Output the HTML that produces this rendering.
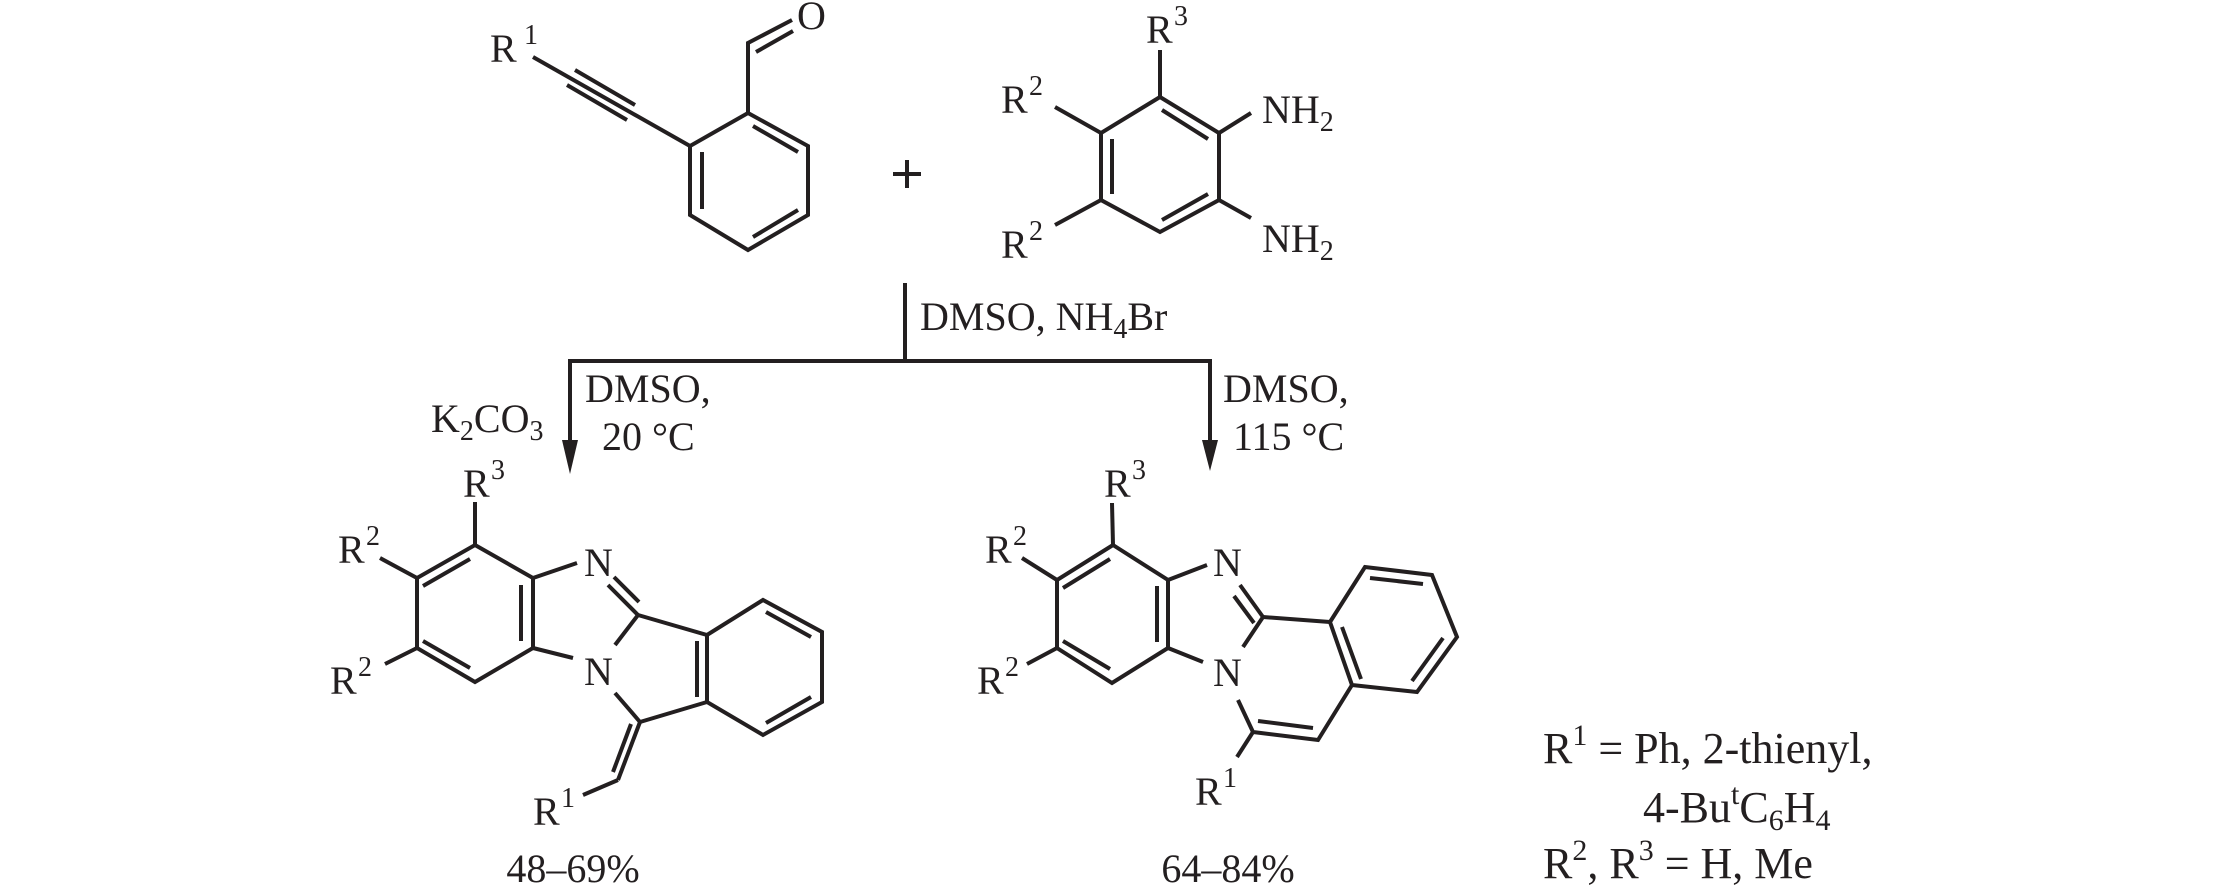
<!DOCTYPE html>
<html><head><meta charset="utf-8"><style>
html,body{margin:0;padding:0;background:#fff}
svg{display:block}
text{font-family:"Liberation Serif",serif;fill:#231f20}
</style></head><body>
<svg width="2213" height="886" viewBox="0 0 2213 886" xmlns="http://www.w3.org/2000/svg">
<g stroke="#231f20" stroke-width="4" fill="none" stroke-linecap="butt" stroke-linejoin="miter">
<!-- reactant 1 -->
<polygon points="748,113 808,146 808,215 748,250 690,215 690,146"/>
<line x1="753" y1="126" x2="798" y2="152"/>
<line x1="702" y1="152" x2="702" y2="209"/>
<line x1="753" y1="237" x2="798" y2="210"/>
<polyline points="748,113 748,43 792,20"/>
<line x1="756" y1="52" x2="793" y2="31"/>
<line x1="533" y1="57" x2="690" y2="146"/>
<line x1="575" y1="70" x2="635" y2="105"/>
<line x1="567" y1="85" x2="627" y2="120"/>
<!-- plus -->
<line x1="893" y1="174" x2="921" y2="174"/>
<line x1="907" y1="160" x2="907" y2="188"/>
<!-- diamine -->
<polygon points="1160,97 1219,133 1219,200 1160,232 1101,200 1101,133"/>
<line x1="1162" y1="110" x2="1208" y2="139"/>
<line x1="1112" y1="139" x2="1112" y2="194"/>
<line x1="1162" y1="220" x2="1208" y2="194"/>
<line x1="1160" y1="97" x2="1160" y2="50"/>
<line x1="1101" y1="133" x2="1055" y2="107"/>
<line x1="1219" y1="133" x2="1251" y2="113"/>
<line x1="1219" y1="200" x2="1251" y2="218"/>
<line x1="1101" y1="200" x2="1055" y2="225"/>
<!-- arrows -->
<line x1="905" y1="283" x2="905" y2="361"/>
<line x1="568" y1="361" x2="1212" y2="361"/>
<line x1="570" y1="361" x2="570" y2="445"/>
<line x1="1210" y1="361" x2="1210" y2="445"/>
<!-- left product -->
<polygon points="475,545 533,578 533,648 475,682 417,648 417,578"/>
<line x1="423" y1="586" x2="470" y2="559"/>
<line x1="521" y1="585" x2="521" y2="641"/>
<line x1="423" y1="641" x2="470" y2="668"/>
<line x1="475" y1="545" x2="475" y2="502"/>
<line x1="417" y1="578" x2="380" y2="558"/>
<line x1="417" y1="648" x2="385" y2="664"/>
<line x1="533" y1="578" x2="577" y2="563"/>
<line x1="533" y1="648" x2="573" y2="658"/>
<line x1="608" y1="585" x2="638" y2="615"/>
<line x1="614" y1="577" x2="639" y2="602"/>
<line x1="638" y1="615" x2="615" y2="645"/>
<line x1="638" y1="615" x2="707" y2="635"/>
<polygon points="707,635 763,600 822,632 822,702 763,735 707,702"/>
<line x1="697" y1="641" x2="697" y2="697"/>
<line x1="766" y1="612" x2="811" y2="637"/>
<line x1="766" y1="723" x2="811" y2="697"/>
<line x1="615" y1="693" x2="640" y2="722"/>
<line x1="640" y1="722" x2="707" y2="702"/>
<line x1="640" y1="722" x2="618" y2="780"/>
<line x1="631" y1="724" x2="613" y2="772"/>
<line x1="618" y1="780" x2="583" y2="795"/>
<!-- right product -->
<polygon points="1113,545 1168,580 1168,648 1112,683 1057,648 1057,580"/>
<line x1="1063" y1="588" x2="1110" y2="559"/>
<line x1="1157" y1="586" x2="1157" y2="642"/>
<line x1="1063" y1="641" x2="1110" y2="669"/>
<line x1="1113" y1="545" x2="1112" y2="503"/>
<line x1="1057" y1="580" x2="1022" y2="558"/>
<line x1="1057" y1="648" x2="1027" y2="664"/>
<line x1="1168" y1="580" x2="1207" y2="565"/>
<line x1="1168" y1="648" x2="1203" y2="662"/>
<line x1="1240" y1="585" x2="1263" y2="617"/>
<line x1="1234" y1="596" x2="1254" y2="623"/>
<line x1="1263" y1="617" x2="1243" y2="647"/>
<line x1="1263" y1="617" x2="1330" y2="622"/>
<polygon points="1330,622 1365,567 1432,575 1457,637 1417,692 1352,685"/>
<line x1="1342" y1="627" x2="1361" y2="679"/>
<line x1="1370" y1="578" x2="1423" y2="584"/>
<line x1="1443" y1="638" x2="1412" y2="681"/>
<polyline points="1352,685 1318,740 1253,732 1238,700"/>
<line x1="1258" y1="721" x2="1313" y2="728"/>
<line x1="1253" y1="732" x2="1237" y2="757"/>
</g>
<!-- arrowheads -->
<polygon points="562,440 578,440 570,474" fill="#231f20"/>
<polygon points="1202,440 1218,440 1210,471" fill="#231f20"/>
<g font-size="40">
<text x="490" y="62">R</text><text x="524" y="44" font-size="28">1</text>
<text x="797" y="29">O</text>
<text x="1146" y="43">R</text><text x="1174" y="25" font-size="28">3</text>
<text x="1001" y="113">R</text><text x="1029" y="95" font-size="28">2</text>
<text x="1001" y="258">R</text><text x="1029" y="240" font-size="28">2</text>
<text x="1262" y="123">NH<tspan font-size="28" dy="8">2</tspan></text>
<text x="1262" y="252">NH<tspan font-size="28" dy="8">2</tspan></text>
<text x="920" y="330">DMSO, NH<tspan font-size="28" dy="8">4</tspan><tspan dy="-8">Br</tspan></text>
<text x="431" y="432">K<tspan font-size="28" dy="8">2</tspan><tspan dy="-8">CO</tspan><tspan font-size="28" dy="8">3</tspan></text>
<text x="585" y="402">DMSO,</text>
<text x="602" y="450">20 °C</text>
<text x="1223" y="402">DMSO,</text>
<text x="1233" y="450">115 °C</text>
<text x="463" y="497">R</text><text x="491" y="479" font-size="28">3</text>
<text x="338" y="563">R</text><text x="366" y="545" font-size="28">2</text>
<text x="330" y="694">R</text><text x="358" y="676" font-size="28">2</text>
<text x="584" y="576">N</text>
<text x="584" y="685">N</text>
<text x="533" y="825">R</text><text x="561" y="807" font-size="28">1</text>
<text x="573" y="882" text-anchor="middle">48–69%</text>
<text x="1104" y="497">R</text><text x="1132" y="479" font-size="28">3</text>
<text x="985" y="563">R</text><text x="1013" y="545" font-size="28">2</text>
<text x="977" y="694">R</text><text x="1005" y="676" font-size="28">2</text>
<text x="1213" y="576">N</text>
<text x="1213" y="686">N</text>
<text x="1195" y="805">R</text><text x="1223" y="787" font-size="28">1</text>
<text x="1228" y="882" text-anchor="middle">64–84%</text>
</g>
<g font-size="44">
<text x="1543" y="763">R<tspan font-size="30" dy="-18">1</tspan><tspan dy="18"> = Ph, 2-thienyl,</tspan></text>
<text x="1643" y="822">4-Bu<tspan font-size="30" dy="-18">t</tspan><tspan dy="18">C</tspan><tspan font-size="30" dy="8">6</tspan><tspan dy="-8">H</tspan><tspan font-size="30" dy="8">4</tspan></text>
<text x="1543" y="878">R<tspan font-size="30" dy="-18">2</tspan><tspan dy="18">, R</tspan><tspan font-size="30" dy="-18">3</tspan><tspan dy="18"> = H, Me</tspan></text>
</g>
</svg>
</body></html>
